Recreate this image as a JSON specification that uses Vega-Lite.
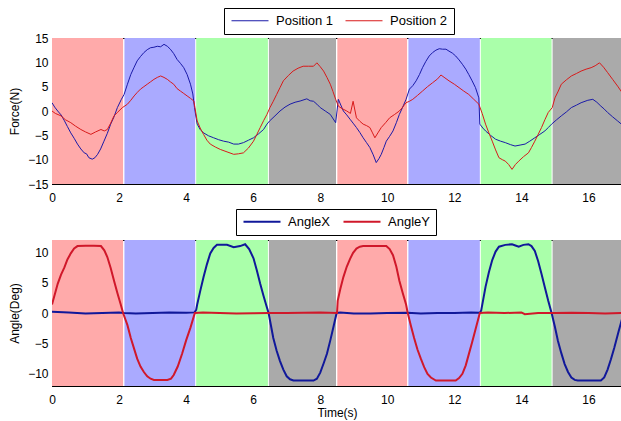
{
  "$schema": "https://vega.github.io/schema/vega-lite/v6.json",
  "padding": {"left": 8, "top": 7, "right": 0, "bottom": 5},
  "background": "white",
  "datasets": {
    "phases": [
      {"x0": 0, "x1": 2.12, "p": "A"},
      {"x0": 2.16, "x1": 4.27, "p": "B"},
      {"x0": 4.3, "x1": 6.44, "p": "C"},
      {"x0": 6.47, "x1": 8.47, "p": "D"},
      {"x0": 8.51, "x1": 10.59, "p": "A"},
      {"x0": 10.63, "x1": 12.76, "p": "B"},
      {"x0": 12.79, "x1": 14.9, "p": "C"},
      {"x0": 14.93, "x1": 17, "p": "D"}
    ],
    "force": [
      {"t":0,"s":"Position 1","v":1.7},{"t":0.08,"s":"Position 1","v":0.8},{"t":0.17,"s":"Position 1","v":0},{"t":0.27,"s":"Position 1","v":-0.8},{"t":0.37,"s":"Position 1","v":-2},{"t":0.46,"s":"Position 1","v":-3.2},{"t":0.56,"s":"Position 1","v":-4.5},{"t":0.66,"s":"Position 1","v":-5.6},{"t":0.76,"s":"Position 1","v":-6.8},{"t":0.86,"s":"Position 1","v":-7.8},{"t":0.96,"s":"Position 1","v":-8.6},{"t":1.03,"s":"Position 1","v":-8.8},{"t":1.1,"s":"Position 1","v":-9.6},{"t":1.2,"s":"Position 1","v":-9.9},{"t":1.28,"s":"Position 1","v":-9.6},{"t":1.36,"s":"Position 1","v":-8.9},{"t":1.45,"s":"Position 1","v":-7.8},{"t":1.55,"s":"Position 1","v":-6.2},{"t":1.65,"s":"Position 1","v":-4.6},{"t":1.75,"s":"Position 1","v":-2.7},{"t":1.85,"s":"Position 1","v":-1.2},{"t":1.95,"s":"Position 1","v":0.7},{"t":2.07,"s":"Position 1","v":2.4},{"t":2.15,"s":"Position 1","v":3.4},{"t":2.25,"s":"Position 1","v":5.5},{"t":2.35,"s":"Position 1","v":7.5},{"t":2.45,"s":"Position 1","v":9},{"t":2.54,"s":"Position 1","v":10.3},{"t":2.64,"s":"Position 1","v":11.2},{"t":2.74,"s":"Position 1","v":12},{"t":2.84,"s":"Position 1","v":12.6},{"t":2.94,"s":"Position 1","v":13},{"t":3.04,"s":"Position 1","v":13.1},{"t":3.14,"s":"Position 1","v":13.3},{"t":3.24,"s":"Position 1","v":13.2},{"t":3.34,"s":"Position 1","v":13.7},{"t":3.44,"s":"Position 1","v":13.3},{"t":3.53,"s":"Position 1","v":12.7},{"t":3.63,"s":"Position 1","v":11.8},{"t":3.73,"s":"Position 1","v":10.6},{"t":3.83,"s":"Position 1","v":9.8},{"t":3.93,"s":"Position 1","v":8.9},{"t":4.03,"s":"Position 1","v":7.5},{"t":4.13,"s":"Position 1","v":5.5},{"t":4.2,"s":"Position 1","v":3.5},{"t":4.25,"s":"Position 1","v":0.7},{"t":4.3,"s":"Position 1","v":-1.5},{"t":4.33,"s":"Position 1","v":-2.7},{"t":4.42,"s":"Position 1","v":-3.8},{"t":4.52,"s":"Position 1","v":-4.5},{"t":4.67,"s":"Position 1","v":-5.1},{"t":4.82,"s":"Position 1","v":-5.5},{"t":4.97,"s":"Position 1","v":-5.9},{"t":5.12,"s":"Position 1","v":-6.2},{"t":5.27,"s":"Position 1","v":-6.4},{"t":5.42,"s":"Position 1","v":-6.8},{"t":5.56,"s":"Position 1","v":-6.8},{"t":5.71,"s":"Position 1","v":-6.5},{"t":5.86,"s":"Position 1","v":-6},{"t":6.01,"s":"Position 1","v":-5.5},{"t":6.16,"s":"Position 1","v":-4.7},{"t":6.31,"s":"Position 1","v":-3.8},{"t":6.41,"s":"Position 1","v":-2.7},{"t":6.49,"s":"Position 1","v":-2.05},{"t":6.65,"s":"Position 1","v":-1},{"t":6.8,"s":"Position 1","v":0},{"t":6.95,"s":"Position 1","v":0.8},{"t":7.1,"s":"Position 1","v":1.4},{"t":7.25,"s":"Position 1","v":1.8},{"t":7.4,"s":"Position 1","v":2.05},{"t":7.6,"s":"Position 1","v":2.5},{"t":7.7,"s":"Position 1","v":2.1},{"t":7.8,"s":"Position 1","v":2},{"t":7.9,"s":"Position 1","v":1.4},{"t":8.0,"s":"Position 1","v":0.7},{"t":8.15,"s":"Position 1","v":0},{"t":8.3,"s":"Position 1","v":-0.7},{"t":8.46,"s":"Position 1","v":-2.4},{"t":8.54,"s":"Position 1","v":2.4},{"t":8.69,"s":"Position 1","v":0},{"t":8.79,"s":"Position 1","v":-0.8},{"t":8.89,"s":"Position 1","v":-1.7},{"t":8.98,"s":"Position 1","v":-2.5},{"t":9.08,"s":"Position 1","v":-3.4},{"t":9.18,"s":"Position 1","v":-4.4},{"t":9.28,"s":"Position 1","v":-5.5},{"t":9.38,"s":"Position 1","v":-6.5},{"t":9.48,"s":"Position 1","v":-7.5},{"t":9.58,"s":"Position 1","v":-9},{"t":9.67,"s":"Position 1","v":-10.6},{"t":9.75,"s":"Position 1","v":-9.8},{"t":9.82,"s":"Position 1","v":-8.9},{"t":9.9,"s":"Position 1","v":-7.5},{"t":9.97,"s":"Position 1","v":-6.2},{"t":10.07,"s":"Position 1","v":-5.2},{"t":10.17,"s":"Position 1","v":-4.1},{"t":10.27,"s":"Position 1","v":-2.4},{"t":10.36,"s":"Position 1","v":-0.7},{"t":10.46,"s":"Position 1","v":0.8},{"t":10.56,"s":"Position 1","v":2.4},{"t":10.66,"s":"Position 1","v":4.5},{"t":10.76,"s":"Position 1","v":5.2},{"t":10.86,"s":"Position 1","v":6.2},{"t":10.96,"s":"Position 1","v":7.5},{"t":11.05,"s":"Position 1","v":8.9},{"t":11.15,"s":"Position 1","v":10.2},{"t":11.25,"s":"Position 1","v":11.3},{"t":11.35,"s":"Position 1","v":12},{"t":11.45,"s":"Position 1","v":12.5},{"t":11.55,"s":"Position 1","v":12.8},{"t":11.65,"s":"Position 1","v":12.7},{"t":11.75,"s":"Position 1","v":12.7},{"t":11.84,"s":"Position 1","v":12.3},{"t":11.94,"s":"Position 1","v":11.9},{"t":12.04,"s":"Position 1","v":11.3},{"t":12.14,"s":"Position 1","v":10.5},{"t":12.24,"s":"Position 1","v":9.6},{"t":12.34,"s":"Position 1","v":8.6},{"t":12.43,"s":"Position 1","v":7.5},{"t":12.53,"s":"Position 1","v":6.2},{"t":12.63,"s":"Position 1","v":4.8},{"t":12.73,"s":"Position 1","v":2.7},{"t":12.76,"s":"Position 1","v":-2.7},{"t":12.85,"s":"Position 1","v":-3.5},{"t":12.93,"s":"Position 1","v":-4.1},{"t":13.08,"s":"Position 1","v":-5},{"t":13.23,"s":"Position 1","v":-5.8},{"t":13.38,"s":"Position 1","v":-6.2},{"t":13.52,"s":"Position 1","v":-6.5},{"t":13.67,"s":"Position 1","v":-6.9},{"t":13.81,"s":"Position 1","v":-7.2},{"t":13.96,"s":"Position 1","v":-7},{"t":14.11,"s":"Position 1","v":-6.8},{"t":14.25,"s":"Position 1","v":-6.2},{"t":14.4,"s":"Position 1","v":-5.5},{"t":14.55,"s":"Position 1","v":-4.8},{"t":14.7,"s":"Position 1","v":-4.1},{"t":14.8,"s":"Position 1","v":-3.4},{"t":14.9,"s":"Position 1","v":-2.7},{"t":15.05,"s":"Position 1","v":-1.8},{"t":15.19,"s":"Position 1","v":-1},{"t":15.34,"s":"Position 1","v":-0.2},{"t":15.49,"s":"Position 1","v":0.7},{"t":15.64,"s":"Position 1","v":1.2},{"t":15.78,"s":"Position 1","v":1.7},{"t":15.98,"s":"Position 1","v":2.2},{"t":16.13,"s":"Position 1","v":2.4},{"t":16.25,"s":"Position 1","v":1.8},{"t":16.37,"s":"Position 1","v":1},{"t":16.47,"s":"Position 1","v":0.4},{"t":16.57,"s":"Position 1","v":-0.3},{"t":16.72,"s":"Position 1","v":-1.2},{"t":16.87,"s":"Position 1","v":-2.05},{"t":17,"s":"Position 1","v":-2.8},
      {"t":0,"s":"Position 2","v":0},{"t":0.1,"s":"Position 2","v":-0.5},{"t":0.27,"s":"Position 2","v":-1},{"t":0.4,"s":"Position 2","v":-1.8},{"t":0.56,"s":"Position 2","v":-2.4},{"t":0.7,"s":"Position 2","v":-3.1},{"t":0.86,"s":"Position 2","v":-3.8},{"t":1.0,"s":"Position 2","v":-4.3},{"t":1.16,"s":"Position 2","v":-4.8},{"t":1.3,"s":"Position 2","v":-4.3},{"t":1.46,"s":"Position 2","v":-3.8},{"t":1.56,"s":"Position 2","v":-4.1},{"t":1.65,"s":"Position 2","v":-3.8},{"t":1.75,"s":"Position 2","v":-2.5},{"t":1.85,"s":"Position 2","v":-1},{"t":1.95,"s":"Position 2","v":-0.3},{"t":2.1,"s":"Position 2","v":0.7},{"t":2.25,"s":"Position 2","v":1.4},{"t":2.35,"s":"Position 2","v":2.2},{"t":2.45,"s":"Position 2","v":3.1},{"t":2.54,"s":"Position 2","v":3.8},{"t":2.64,"s":"Position 2","v":4.5},{"t":2.74,"s":"Position 2","v":5},{"t":2.84,"s":"Position 2","v":5.5},{"t":2.94,"s":"Position 2","v":6},{"t":3.04,"s":"Position 2","v":6.5},{"t":3.14,"s":"Position 2","v":6.9},{"t":3.24,"s":"Position 2","v":7.2},{"t":3.34,"s":"Position 2","v":6.9},{"t":3.44,"s":"Position 2","v":6.5},{"t":3.53,"s":"Position 2","v":6},{"t":3.63,"s":"Position 2","v":5.5},{"t":3.73,"s":"Position 2","v":4.6},{"t":3.83,"s":"Position 2","v":4.1},{"t":3.93,"s":"Position 2","v":3.6},{"t":4.03,"s":"Position 2","v":3.1},{"t":4.13,"s":"Position 2","v":2.6},{"t":4.23,"s":"Position 2","v":2.05},{"t":4.33,"s":"Position 2","v":-2.05},{"t":4.42,"s":"Position 2","v":-3.5},{"t":4.52,"s":"Position 2","v":-4.8},{"t":4.62,"s":"Position 2","v":-6},{"t":4.72,"s":"Position 2","v":-6.8},{"t":4.87,"s":"Position 2","v":-7.4},{"t":5.02,"s":"Position 2","v":-7.9},{"t":5.22,"s":"Position 2","v":-8.4},{"t":5.42,"s":"Position 2","v":-8.9},{"t":5.56,"s":"Position 2","v":-8.8},{"t":5.71,"s":"Position 2","v":-8.6},{"t":5.86,"s":"Position 2","v":-7.6},{"t":6.01,"s":"Position 2","v":-6.2},{"t":6.11,"s":"Position 2","v":-4.8},{"t":6.21,"s":"Position 2","v":-3.4},{"t":6.31,"s":"Position 2","v":-2},{"t":6.41,"s":"Position 2","v":-0.7},{"t":6.5,"s":"Position 2","v":0.7},{"t":6.6,"s":"Position 2","v":2},{"t":6.7,"s":"Position 2","v":3.4},{"t":6.8,"s":"Position 2","v":4.8},{"t":6.9,"s":"Position 2","v":6.2},{"t":7.05,"s":"Position 2","v":7.3},{"t":7.19,"s":"Position 2","v":8.2},{"t":7.34,"s":"Position 2","v":8.8},{"t":7.49,"s":"Position 2","v":9.2},{"t":7.65,"s":"Position 2","v":9.2},{"t":7.8,"s":"Position 2","v":9.2},{"t":7.9,"s":"Position 2","v":9.9},{"t":8.0,"s":"Position 2","v":9.1},{"t":8.1,"s":"Position 2","v":8.2},{"t":8.2,"s":"Position 2","v":6.9},{"t":8.3,"s":"Position 2","v":5.5},{"t":8.38,"s":"Position 2","v":4},{"t":8.46,"s":"Position 2","v":2.4},{"t":8.54,"s":"Position 2","v":1},{"t":8.65,"s":"Position 2","v":0.5},{"t":8.79,"s":"Position 2","v":0},{"t":8.9,"s":"Position 2","v":-0.5},{"t":8.98,"s":"Position 2","v":2},{"t":9.08,"s":"Position 2","v":-1.4},{"t":9.18,"s":"Position 2","v":-2.1},{"t":9.28,"s":"Position 2","v":-2.7},{"t":9.38,"s":"Position 2","v":-3},{"t":9.48,"s":"Position 2","v":-3.4},{"t":9.56,"s":"Position 2","v":-4.5},{"t":9.63,"s":"Position 2","v":-5.5},{"t":9.72,"s":"Position 2","v":-4.5},{"t":9.82,"s":"Position 2","v":-3.4},{"t":9.95,"s":"Position 2","v":-2.4},{"t":10.07,"s":"Position 2","v":-1.4},{"t":10.22,"s":"Position 2","v":-0.7},{"t":10.36,"s":"Position 2","v":0},{"t":10.46,"s":"Position 2","v":0.8},{"t":10.56,"s":"Position 2","v":1.7},{"t":10.66,"s":"Position 2","v":2},{"t":10.76,"s":"Position 2","v":2.4},{"t":10.9,"s":"Position 2","v":3.2},{"t":11.05,"s":"Position 2","v":4.1},{"t":11.2,"s":"Position 2","v":5},{"t":11.35,"s":"Position 2","v":5.8},{"t":11.5,"s":"Position 2","v":6.6},{"t":11.6,"s":"Position 2","v":7.4},{"t":11.72,"s":"Position 2","v":6.8},{"t":11.84,"s":"Position 2","v":6.2},{"t":12.0,"s":"Position 2","v":5.5},{"t":12.14,"s":"Position 2","v":4.8},{"t":12.28,"s":"Position 2","v":4.1},{"t":12.43,"s":"Position 2","v":3.4},{"t":12.58,"s":"Position 2","v":2.4},{"t":12.73,"s":"Position 2","v":1.4},{"t":12.83,"s":"Position 2","v":-0.5},{"t":12.93,"s":"Position 2","v":-2.7},{"t":13.03,"s":"Position 2","v":-4.5},{"t":13.13,"s":"Position 2","v":-6.2},{"t":13.23,"s":"Position 2","v":-8},{"t":13.33,"s":"Position 2","v":-9.6},{"t":13.43,"s":"Position 2","v":-10},{"t":13.52,"s":"Position 2","v":-10.3},{"t":13.62,"s":"Position 2","v":-11},{"t":13.72,"s":"Position 2","v":-12},{"t":13.82,"s":"Position 2","v":-11},{"t":13.92,"s":"Position 2","v":-10.3},{"t":14.06,"s":"Position 2","v":-9.4},{"t":14.21,"s":"Position 2","v":-8.6},{"t":14.3,"s":"Position 2","v":-7.5},{"t":14.4,"s":"Position 2","v":-6.2},{"t":14.5,"s":"Position 2","v":-4.8},{"t":14.6,"s":"Position 2","v":-3.4},{"t":14.7,"s":"Position 2","v":-1.8},{"t":14.8,"s":"Position 2","v":-0.3},{"t":14.92,"s":"Position 2","v":0.7},{"t":15.0,"s":"Position 2","v":2.7},{"t":15.1,"s":"Position 2","v":4.1},{"t":15.19,"s":"Position 2","v":5.5},{"t":15.34,"s":"Position 2","v":6.4},{"t":15.49,"s":"Position 2","v":7.2},{"t":15.64,"s":"Position 2","v":7.7},{"t":15.78,"s":"Position 2","v":8.2},{"t":15.93,"s":"Position 2","v":8.6},{"t":16.08,"s":"Position 2","v":8.9},{"t":16.2,"s":"Position 2","v":9.3},{"t":16.33,"s":"Position 2","v":9.9},{"t":16.45,"s":"Position 2","v":9},{"t":16.57,"s":"Position 2","v":7.9},{"t":16.72,"s":"Position 2","v":6.5},{"t":16.87,"s":"Position 2","v":5.1},{"t":17,"s":"Position 2","v":3.8}
    ],
    "angle": [
      {"t":0,"s":"AngleX","v":0.2},{"t":0.5,"s":"AngleX","v":0.1},{"t":1,"s":"AngleX","v":-0.1},{"t":1.5,"s":"AngleX","v":0},{"t":2,"s":"AngleX","v":0.1},{"t":2.15,"s":"AngleX","v":0},{"t":2.5,"s":"AngleX","v":-0.1},{"t":3,"s":"AngleX","v":0},{"t":3.5,"s":"AngleX","v":0.1},{"t":4,"s":"AngleX","v":0.05},{"t":4.25,"s":"AngleX","v":0.1},{"t":4.3,"s":"AngleX","v":0.5},{"t":4.33,"s":"AngleX","v":1.4},{"t":4.42,"s":"AngleX","v":3.6},{"t":4.52,"s":"AngleX","v":5.9},{"t":4.62,"s":"AngleX","v":8},{"t":4.72,"s":"AngleX","v":9.8},{"t":4.82,"s":"AngleX","v":10.7},{"t":4.92,"s":"AngleX","v":11.2},{"t":5.07,"s":"AngleX","v":11.2},{"t":5.22,"s":"AngleX","v":11.2},{"t":5.42,"s":"AngleX","v":10.8},{"t":5.61,"s":"AngleX","v":11},{"t":5.76,"s":"AngleX","v":11.3},{"t":5.88,"s":"AngleX","v":10.5},{"t":6.01,"s":"AngleX","v":9},{"t":6.11,"s":"AngleX","v":7},{"t":6.21,"s":"AngleX","v":4.8},{"t":6.31,"s":"AngleX","v":2.8},{"t":6.41,"s":"AngleX","v":0.9},{"t":6.46,"s":"AngleX","v":0},{"t":6.6,"s":"AngleX","v":-4.1},{"t":6.7,"s":"AngleX","v":-6.2},{"t":6.8,"s":"AngleX","v":-7.9},{"t":6.9,"s":"AngleX","v":-9.3},{"t":7.0,"s":"AngleX","v":-10.4},{"t":7.1,"s":"AngleX","v":-10.9},{"t":7.2,"s":"AngleX","v":-11.1},{"t":7.5,"s":"AngleX","v":-11.1},{"t":7.8,"s":"AngleX","v":-11.1},{"t":7.9,"s":"AngleX","v":-10.8},{"t":8.0,"s":"AngleX","v":-9.8},{"t":8.1,"s":"AngleX","v":-8.3},{"t":8.2,"s":"AngleX","v":-6.7},{"t":8.3,"s":"AngleX","v":-4.5},{"t":8.39,"s":"AngleX","v":-2.4},{"t":8.49,"s":"AngleX","v":0},{"t":8.6,"s":"AngleX","v":0.1},{"t":9,"s":"AngleX","v":-0.1},{"t":9.5,"s":"AngleX","v":-0.1},{"t":10,"s":"AngleX","v":0},{"t":10.6,"s":"AngleX","v":0.05},{"t":11,"s":"AngleX","v":-0.1},{"t":11.5,"s":"AngleX","v":0},{"t":12,"s":"AngleX","v":0},{"t":12.5,"s":"AngleX","v":0.1},{"t":12.76,"s":"AngleX","v":0.05},{"t":12.8,"s":"AngleX","v":0.4},{"t":12.93,"s":"AngleX","v":4.3},{"t":13.03,"s":"AngleX","v":6.7},{"t":13.13,"s":"AngleX","v":8.7},{"t":13.23,"s":"AngleX","v":10.1},{"t":13.33,"s":"AngleX","v":10.9},{"t":13.52,"s":"AngleX","v":11.2},{"t":13.72,"s":"AngleX","v":11.3},{"t":13.82,"s":"AngleX","v":11.1},{"t":13.92,"s":"AngleX","v":10.9},{"t":14.06,"s":"AngleX","v":11.2},{"t":14.21,"s":"AngleX","v":11.3},{"t":14.3,"s":"AngleX","v":11},{"t":14.4,"s":"AngleX","v":10.2},{"t":14.5,"s":"AngleX","v":8.5},{"t":14.6,"s":"AngleX","v":6.4},{"t":14.7,"s":"AngleX","v":4.2},{"t":14.8,"s":"AngleX","v":2},{"t":14.9,"s":"AngleX","v":0},{"t":15.0,"s":"AngleX","v":-2.3},{"t":15.09,"s":"AngleX","v":-4.6},{"t":15.19,"s":"AngleX","v":-6.6},{"t":15.29,"s":"AngleX","v":-8.4},{"t":15.39,"s":"AngleX","v":-9.7},{"t":15.49,"s":"AngleX","v":-10.6},{"t":15.59,"s":"AngleX","v":-11},{"t":15.68,"s":"AngleX","v":-11.1},{"t":16,"s":"AngleX","v":-11.1},{"t":16.37,"s":"AngleX","v":-11.1},{"t":16.47,"s":"AngleX","v":-10.6},{"t":16.57,"s":"AngleX","v":-9.3},{"t":16.67,"s":"AngleX","v":-7.6},{"t":16.77,"s":"AngleX","v":-5.7},{"t":16.9,"s":"AngleX","v":-3},{"t":17,"s":"AngleX","v":-1},
      {"t":0,"s":"AngleY","v":1.4},{"t":0.08,"s":"AngleY","v":3},{"t":0.17,"s":"AngleY","v":4.8},{"t":0.27,"s":"AngleY","v":6.3},{"t":0.37,"s":"AngleY","v":7.5},{"t":0.46,"s":"AngleY","v":8.8},{"t":0.56,"s":"AngleY","v":9.8},{"t":0.66,"s":"AngleY","v":10.6},{"t":0.76,"s":"AngleY","v":11},{"t":1.0,"s":"AngleY","v":11.05},{"t":1.25,"s":"AngleY","v":11.05},{"t":1.46,"s":"AngleY","v":11},{"t":1.56,"s":"AngleY","v":10.3},{"t":1.65,"s":"AngleY","v":9.2},{"t":1.75,"s":"AngleY","v":7.4},{"t":1.85,"s":"AngleY","v":5.3},{"t":1.95,"s":"AngleY","v":3.3},{"t":2.05,"s":"AngleY","v":1.4},{"t":2.12,"s":"AngleY","v":0},{"t":2.25,"s":"AngleY","v":-2},{"t":2.35,"s":"AngleY","v":-4.1},{"t":2.45,"s":"AngleY","v":-5.9},{"t":2.54,"s":"AngleY","v":-7.5},{"t":2.64,"s":"AngleY","v":-8.8},{"t":2.74,"s":"AngleY","v":-9.7},{"t":2.84,"s":"AngleY","v":-10.4},{"t":2.94,"s":"AngleY","v":-10.8},{"t":3.04,"s":"AngleY","v":-11},{"t":3.44,"s":"AngleY","v":-11},{"t":3.55,"s":"AngleY","v":-10.8},{"t":3.63,"s":"AngleY","v":-10.2},{"t":3.75,"s":"AngleY","v":-8.8},{"t":3.88,"s":"AngleY","v":-6.7},{"t":4.0,"s":"AngleY","v":-4.5},{"t":4.13,"s":"AngleY","v":-2.4},{"t":4.26,"s":"AngleY","v":0},{"t":4.5,"s":"AngleY","v":0.1},{"t":5,"s":"AngleY","v":0},{"t":5.5,"s":"AngleY","v":-0.1},{"t":6,"s":"AngleY","v":-0.05},{"t":6.45,"s":"AngleY","v":0},{"t":7,"s":"AngleY","v":0},{"t":7.5,"s":"AngleY","v":0.05},{"t":8,"s":"AngleY","v":0.1},{"t":8.5,"s":"AngleY","v":0},{"t":8.52,"s":"AngleY","v":2},{"t":8.6,"s":"AngleY","v":4},{"t":8.69,"s":"AngleY","v":5.9},{"t":8.79,"s":"AngleY","v":7.6},{"t":8.89,"s":"AngleY","v":8.9},{"t":8.98,"s":"AngleY","v":9.9},{"t":9.08,"s":"AngleY","v":10.6},{"t":9.18,"s":"AngleY","v":10.9},{"t":9.28,"s":"AngleY","v":11},{"t":9.6,"s":"AngleY","v":11},{"t":9.97,"s":"AngleY","v":11},{"t":10.07,"s":"AngleY","v":10.5},{"t":10.17,"s":"AngleY","v":9.5},{"t":10.27,"s":"AngleY","v":7.6},{"t":10.36,"s":"AngleY","v":5.3},{"t":10.46,"s":"AngleY","v":3.3},{"t":10.56,"s":"AngleY","v":1.4},{"t":10.61,"s":"AngleY","v":0},{"t":10.7,"s":"AngleY","v":-2},{"t":10.8,"s":"AngleY","v":-4.1},{"t":10.9,"s":"AngleY","v":-6},{"t":11.0,"s":"AngleY","v":-7.5},{"t":11.1,"s":"AngleY","v":-8.9},{"t":11.2,"s":"AngleY","v":-10},{"t":11.3,"s":"AngleY","v":-10.6},{"t":11.45,"s":"AngleY","v":-11.1},{"t":12.04,"s":"AngleY","v":-11.1},{"t":12.14,"s":"AngleY","v":-10.7},{"t":12.24,"s":"AngleY","v":-10},{"t":12.34,"s":"AngleY","v":-8.6},{"t":12.43,"s":"AngleY","v":-6.8},{"t":12.53,"s":"AngleY","v":-4.8},{"t":12.63,"s":"AngleY","v":-2.7},{"t":12.76,"s":"AngleY","v":0},{"t":13,"s":"AngleY","v":0.1},{"t":13.5,"s":"AngleY","v":0},{"t":14,"s":"AngleY","v":0.1},{"t":14.1,"s":"AngleY","v":-0.2},{"t":14.5,"s":"AngleY","v":0},{"t":15,"s":"AngleY","v":0},{"t":15.5,"s":"AngleY","v":0.05},{"t":16,"s":"AngleY","v":0},{"t":16.5,"s":"AngleY","v":-0.1},{"t":17,"s":"AngleY","v":0}
    ]
  },
  "vconcat": [
    {
      "width": 570,
      "height": 146,
      "layer": [
        {
          "data": {"name": "phases"},
          "mark": {"type": "rect", "clip": true},
          "encoding": {
            "x": {"field": "x0", "type": "quantitative", "scale": {"domain": [0, 17], "nice": false, "zero": false},
                  "axis": {"orient": "top", "labels": false, "title": null, "values": [0,2,4,6,8,10,12,14,16], "domain": false}},
            "x2": {"field": "x1"},
            "y": {"datum": -15, "type": "quantitative", "scale": {"domain": [-15, 15], "nice": false},
                  "axis": {"orient": "right", "labels": false, "title": null, "values": [-15,-10,-5,0,5,10,15], "domain": false}},
            "y2": {"datum": 15},
            "fill": {"field": "p", "type": "nominal", "legend": null,
                     "scale": {"domain": ["A","B","C","D"], "range": ["#ffaaaa","#aaaaff","#aaffaa","#aaaaaa"]}}
          }
        },
        {
          "data": {"name": "force"},
          "mark": {"type": "line", "strokeWidth": 1, "clip": true},
          "encoding": {
            "x": {"field": "t", "type": "quantitative", "axis": {"orient": "bottom", "title": null, "values": [0,2,4,6,8,10,12,14,16]}},
            "y": {"field": "v", "type": "quantitative", "axis": {"orient": "left", "title": "Force(N)", "values": [-15,-10,-5,0,5,10,15]}},
            "stroke": {"field": "s", "type": "nominal",
                       "scale": {"domain": ["Position 1", "Position 2"], "range": ["#1a1aa8", "#d81a1a"]},
                       "legend": {"orient": "none", "legendX": 172, "legendY": -30, "direction": "horizontal", "symbolStrokeWidth": 1}},
            "order": {"field": "t", "type": "quantitative"}
          }
        }
      ],
      "resolve": {"axis": {"x": "independent", "y": "independent"}}
    },
    {
      "width": 570,
      "height": 146,
      "layer": [
        {
          "data": {"name": "phases"},
          "mark": {"type": "rect", "clip": true},
          "encoding": {
            "x": {"field": "x0", "type": "quantitative", "scale": {"domain": [0, 17], "nice": false, "zero": false},
                  "axis": {"orient": "top", "labels": false, "title": null, "values": [0,2,4,6,8,10,12,14,16], "domain": false}},
            "x2": {"field": "x1"},
            "y": {"datum": -12, "type": "quantitative", "scale": {"domain": [-12, 12], "nice": false},
                  "axis": {"orient": "right", "labels": false, "title": null, "values": [-10,-5,0,5,10], "domain": false}},
            "y2": {"datum": 12},
            "fill": {"field": "p", "type": "nominal", "legend": null,
                     "scale": {"domain": ["A","B","C","D"], "range": ["#ffaaaa","#aaaaff","#aaffaa","#aaaaaa"]}}
          }
        },
        {
          "data": {"name": "angle"},
          "mark": {"type": "line", "strokeWidth": 2, "clip": true},
          "encoding": {
            "x": {"field": "t", "type": "quantitative", "axis": {"orient": "bottom", "title": "Time(s)", "values": [0,2,4,6,8,10,12,14,16]}},
            "y": {"field": "v", "type": "quantitative", "axis": {"orient": "left", "title": "Angle(Deg)", "values": [-10,-5,0,5,10]}},
            "stroke": {"field": "s", "type": "nominal",
                       "scale": {"domain": ["AngleX", "AngleY"], "range": ["#10189a", "#d0182a"]},
                       "legend": {"orient": "none", "legendX": 184, "legendY": -31, "direction": "horizontal", "symbolStrokeWidth": 2}},
            "order": {"field": "t", "type": "quantitative"}
          }
        }
      ],
      "resolve": {"axis": {"x": "independent", "y": "independent"}}
    }
  ],
  "spacing": 56,
  "bounds": "flush",
  "resolve": {"scale": {"stroke": "independent", "fill": "shared"}},
  "config": {
    "font": "Liberation Sans",
    "view": {"stroke": "black", "strokeWidth": 1},
    "axis": {
      "grid": false,
      "labelFont": "Liberation Sans",
      "labelFontSize": 12,
      "labelColor": "black",
      "tickColor": "black",
      "domainColor": "black",
      "tickSize": -5,
      "labelPadding": 9,
      "titleFont": "Liberation Sans",
      "titleFontSize": 12,
      "titleFontWeight": "normal",
      "titleColor": "black",
      "titlePadding": 6,
      "labelFlush": false
    },
    "axisX": {"labelPadding": 13, "titlePadding": 2},
    "legend": {
      "title": null,
      "strokeColor": "black",
      "fillColor": "white",
      "padding": 6,
      "labelFont": "Liberation Sans",
      "labelFontSize": 13,
      "labelColor": "black",
      "symbolType": "M-1,0H6.4",
      "symbolSize": 100,
      "symbolStrokeColor": "black",
      "columnPadding": 9,
      "labelOffset": 33,
      "cornerRadius": 0
    }
  }
}
